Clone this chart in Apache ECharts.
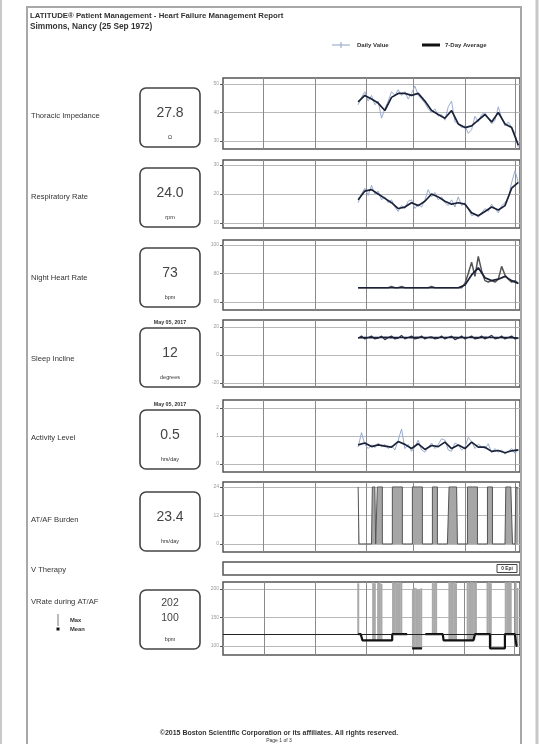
<!DOCTYPE html>
<html><head><meta charset="utf-8">
<script src="https://cdn.jsdelivr.net/npm/echarts@6/dist/echarts.min.js"></script>
<style>html,body{margin:0;padding:0;background:#fff}#c{width:540px;height:744px}</style>
</head><body><div id="c"></div>
<script>
// ---------- data ----------
const titleLines = ['LATITUDE\u00ae Patient Management - Heart Failure Management Report', 'Simmons, Nancy (25 Sep 1972)'];
const legendNames = ['Daily Value', '7-Day Average'];
const footerLines = ['\u00a92015 Boston Scientific Corporation or its affiliates. All rights reserved.', 'Page 1 of 3'];
const startDate = '2017-01-27';
const axisStart = '2016-11-07';
const axisEnd = '2017-05-04';
const monthLines = ['2016-12-01','2017-01-01','2017-02-01','2017-03-01','2017-04-01','2017-05-01'];

const panelLabels = ['Thoracic Impedance','Respiratory Rate','Night Heart Rate','Sleep Incline','Activity Level','AT/AF Burden','V Therapy','VRate during AT/AF'];
const boxValues = ['27.8','24.0','73','12','0.5','23.4'];
const boxUnits = ['\u03a9','rpm','bpm','degrees','hrs/day','hrs/day'];
const boxDates = ['','','','May 05, 2017','May 05, 2017',''];
const vrateBox = ['202','100','bpm'];
const vrateLegend = ['Max','Mean'];
const vTherapyLabel = '0 Epi';

const thorTicks = [30,40,50];
const respTicks = [10,20,30];
const nhrTicks = [60,80,100];
const sleepTicks = [-20,0,20];
const actTicks = [0,1,2];
const afTicks = [0,12,24];
const vrTicks = [100,150,200];

// daily values every 2 days, 7-day averages every 4 days, from startDate
const thorDaily = [42.7,45.3,47.3,44,46,42.7,44,38,41.3,44,47.3,46,48,46,47.3,44.7,46.7,49.3,46,44.7,43.3,41.3,40,41.3,38.7,39.3,37.3,42,44,36.7,36,34.7,35.3,32.7,34,38.7,36.7,39.3,40,38,36,37.3,42,38,35.3,36.7,34.7,32.7,27.8];
const thorAvg = [43.7,46,44.7,43.3,40.7,45.3,46.7,46.7,46,46.7,44,40.7,39.3,38,40.7,36,34.7,35.3,37.3,39.3,36.7,40,36,34.7,28.5];
const respDaily = [17,20,22,19.5,23,20,21,18,19,17,18,15.5,14,16,15,17.5,18,15,16.5,15.5,18,21.5,19,20.5,18,19,17,16,18,15.5,19,16,17,15,12.5,13,12,13.5,15,14,16.5,15,13.5,16,17,18.5,24,28,24];
const respAvg = [18,21,21.5,20,18.5,17,15,15.5,17,16,17.5,20,19,17.5,16.5,17,16.5,13.5,12.5,14,15.5,14.5,16,22,24];
const nhrDaily = [70,70,70,70,70,70,70,70,70,70,71,70,70,71,70,70,70,70,70,70,70,70,71,70,70,70,70,70,70,70,70,70,73,80,88,78,92,82,75,74,75,74,76,85,79,76,74,75,73];
const nhrAvg = [70,70,70,70,70,70,70,70,70,70,70,70,70,70,70,70,72,79,84,77,75,76,78,75,73];
const sleepDaily = [12,13.5,11.5,12.5,13.5,11.5,12,13.5,11,12.5,13.5,11.5,12,14,11.5,12.5,13.5,11.5,12,13.5,11.5,12.5,13,11.5,12,13.5,11.5,12.5,13.5,11,12,13.5,11.5,12.5,13.5,11.5,12,13.5,11.5,12.5,14,11.5,12,13.5,11.5,12.5,13.5,11.5,12];
const sleepAvg = [12.3,12.5,12.4,12.5,12.6,12.4,12.5,12.5,12.4,12.6,12.5,12.4,12.5,12.5,12.6,12.4,12.5,12.5,12.4,12.6,12.5,12.5,12.4,12.5,12];
const actDaily = [0.6,1.12,0.7,0.55,0.68,0.58,0.75,0.62,0.7,0.55,0.65,0.5,0.85,1.25,0.55,0.7,0.45,0.6,0.85,0.5,0.42,0.6,0.75,0.55,0.7,0.9,0.85,0.5,0.45,0.75,0.68,0.5,0.6,0.95,0.8,0.55,0.7,0.62,0.55,0.72,0.4,0.55,0.42,0.5,0.35,0.45,0.55,0.38,0.5];
const actAvg = [0.68,0.75,0.62,0.68,0.64,0.6,0.8,0.7,0.55,0.72,0.52,0.66,0.62,0.78,0.55,0.68,0.55,0.78,0.6,0.6,0.45,0.48,0.4,0.47,0.5];

// daily AT/AF burden (hrs/day)
const afBurden = [24,0,0,0,0,0,0,0,0,24,24,0,24,24,24,0,0,0,0,0,0,24,24,24,24,24,24,0,0,0,0,0,0,24,24,24,24,24,24,0,0,0,0,0,0,24,24,24,0,0,0,0,0,0,0,24,24,24,24,24,0,0,0,0,0,0,24,24,24,24,24,24,0,0,0,0,0,0,24,24,24,0,0,0,0,0,0,0,0,24,24,24,24,0,0,24,23.4];
// daily ventricular rate during AT/AF (bpm)
const vrMax = [210,null,null,null,null,null,null,null,null,212,210,null,211,212,209,null,null,null,null,null,null,212,211,212,210,212,211,null,null,null,null,null,null,200,202,201,199,200,201,null,null,null,null,null,null,212,210,211,null,null,null,null,null,null,null,212,212,211,212,210,null,null,null,null,null,null,212,211,212,212,211,212,null,null,null,null,null,null,211,212,210,null,null,null,null,null,null,null,null,212,211,212,212,null,null,212,202];
const vrMean = [121,121,121,110,110,110,110,110,110,110,110,110,110,110,110,110,110,110,110,110,110,121,121,121,121,121,121,121,121,121,null,null,null,96,96,96,96,96,96,null,null,121,121,121,121,121,121,121,121,121,121,121,110,110,110,110,110,110,110,110,110,110,110,110,110,110,110,110,110,110,110,121,121,121,121,121,121,121,121,121,96,96,96,96,96,96,96,96,96,121,121,121,121,121,121,121,100];
const vrRef = 120;
const vTherapyEpisodes = [];

// ---------- helpers ----------
const d0 = new Date(startDate + 'T00:00:00');
const dayTs = i => new Date(d0.getFullYear(), d0.getMonth(), d0.getDate() + i).getTime();
const ts = s => new Date(s + 'T00:00:00').getTime();
const pts = (arr, step) => arr.map((v, i) => [dayTs(i * step), v == null ? '-' : v]);
const monthTs = monthLines.map(ts);

const G = [[78,149],[160,228],[240,310],[320,387],[400,472],[482,552],[562,575],[582,655]];
const ranges = [[27.2,52.1],[8.3,31.7],[54.4,103.5],[-22.9,25],[-0.29,2.29],[-3.4,26.1],[0,1],[84.2,212.3]];
const ticks = [thorTicks,respTicks,nhrTicks,sleepTicks,actTicks,afTicks,null,vrTicks];

const grid = G.map(g => ({left:223, width:297, top:g[0], height:g[1]-g[0], show:true, borderColor:'#555', borderWidth:1.5, backgroundColor:'#fff'}));
const xAxis = G.map((g, i) => ({
  gridIndex:i, type:'time', min:ts(axisStart), max:ts(axisEnd),
  axisLabel:{show:false}, axisLine:{show:false},
  axisTick:{show:false, customValues:monthTs},
  splitLine:{show:i !== 6, lineStyle:{color:'#8a8a8a', width:1}}
}));
const yAxis = G.map((g, i) => ticks[i] ? ({
  gridIndex:i, type:'value', min:ranges[i][0], max:ranges[i][1],
  axisLine:{show:false},
  axisTick:{show:true, length:3, customValues:ticks[i], lineStyle:{color:'#555'}},
  axisLabel:{show:true, customValues:ticks[i], fontSize:5, color:'#999', margin:4},
  splitLine:{show:true, lineStyle:{color:'#b8b8b8', width:1}}
}) : ({gridIndex:i, type:'value', min:0, max:1, show:false}));

const dailyStyle = {color:'#98abd0', width:1};
const avgStyle = {color:'#1b2238', width:1.7};
function pair(i, daily, avg, dStyle) {
  return [
    {name:legendNames[0], type:'line', xAxisIndex:i, yAxisIndex:i, data:pts(daily,2), showSymbol:false, symbol:'none', lineStyle:dStyle || dailyStyle, z:2},
    {name:legendNames[1], type:'line', xAxisIndex:i, yAxisIndex:i, data:pts(avg,4), showSymbol:false, symbol:'none', lineStyle:avgStyle, z:3}
  ];
}
const afDays = vrMax.map((v, i) => v == null ? null : i).filter(v => v != null);
const series = [
  ...pair(0, thorDaily, thorAvg),
  ...pair(1, respDaily, respAvg),
  ...pair(2, nhrDaily, nhrAvg, {color:'#555', width:1.5}),
  ...pair(3, sleepDaily, sleepAvg, {color:'#2c3652', width:1.3}),
  ...pair(4, actDaily, actAvg),
  {name:'AT/AF Burden', type:'line', step:'middle', xAxisIndex:5, yAxisIndex:5, data:pts(afBurden,1), symbol:'none', lineStyle:{color:'#555', width:1}, areaStyle:{color:'#a6a6a6', opacity:1}},
  {name:'V Therapy', type:'scatter', xAxisIndex:6, yAxisIndex:6, data:vTherapyEpisodes},
  {name:'base', type:'bar', stack:'vr', xAxisIndex:7, yAxisIndex:7, barWidth:2, itemStyle:{color:'rgba(0,0,0,0)'}, data:afDays.map(d => [dayTs(d), vrMean[d]])},
  {name:vrateLegend[0], type:'bar', stack:'vr', xAxisIndex:7, yAxisIndex:7, barWidth:2.2, itemStyle:{color:'#a9a9a9'}, data:afDays.map(d => [dayTs(d), vrMax[d] - vrMean[d]]),
   markLine:{silent:true, symbol:'none', label:{show:false}, lineStyle:{color:'#222', width:1, type:'solid'}, data:[{yAxis:vrRef}]}},
  {name:vrateLegend[1], type:'line', step:'middle', xAxisIndex:7, yAxisIndex:7, data:pts(vrMean,1), symbol:'none', connectNulls:false, lineStyle:{color:'#111', width:2.2}, z:4}
];

// ---------- graphics (page, labels, boxes) ----------
const FF = 'Liberation Sans, Arial, sans-serif';
const gfx = [];
const txt = (text, x, y, size, opt) => gfx.push(Object.assign({type:'text', x, y, z:10, style:Object.assign({text, fontSize:size, fontFamily:FF, fill:'#333', align:'left', verticalAlign:'middle'}, opt || {})}));
gfx.push({type:'line', shape:{x1:1, y1:0, x2:1, y2:744}, style:{stroke:'#c8c8c8', lineWidth:2}});
gfx.push({type:'line', shape:{x1:537, y1:0, x2:537, y2:744}, style:{stroke:'#c8c8c8', lineWidth:3}});
gfx.push({type:'rect', shape:{x:27, y:7, width:494, height:760}, style:{fill:'none', stroke:'#a8a8a8', lineWidth:2}});
txt(titleLines[0], 30, 16, 7.8, {fontWeight:'bold'});
txt(titleLines[1], 30, 27, 8.3, {fontWeight:'bold'});
// top legend
gfx.push({type:'line', shape:{x1:332, y1:45, x2:350, y2:45}, style:{stroke:'#8fa2c8', lineWidth:1}});
gfx.push({type:'line', shape:{x1:341, y1:42, x2:341, y2:48}, style:{stroke:'#8fa2c8', lineWidth:1}});
txt(legendNames[0], 357, 45, 6, {fontWeight:'bold'});
gfx.push({type:'line', shape:{x1:422, y1:45, x2:440, y2:45}, style:{stroke:'#111', lineWidth:3}});
txt(legendNames[1], 445, 45, 6, {fontWeight:'bold'});
// left labels
const labelY = [116,197,278,359,438,520,570,602];
panelLabels.forEach((l, i) => txt(l, 31, labelY[i], 7.6));
// value boxes
const boxTop = [88,168,248,328,410,492];
boxValues.forEach((v, i) => {
  const t = boxTop[i];
  gfx.push({type:'rect', shape:{x:140, y:t, width:60, height:59, r:6}, style:{fill:'none', stroke:'#444', lineWidth:1.6}});
  txt(v, 170, t + 25, 14, {align:'center', fill:'#444'});
  txt(boxUnits[i], 170, t + 49, 5.5, {align:'center', fill:'#333'});
  if (boxDates[i]) txt(boxDates[i], 170, t - 5, 5.3, {align:'center', fontWeight:'bold'});
});
gfx.push({type:'rect', shape:{x:140, y:590, width:60, height:59, r:6}, style:{fill:'none', stroke:'#444', lineWidth:1.6}});
txt(vrateBox[0], 170, 603, 10.5, {align:'center', fill:'#444'});
txt(vrateBox[1], 170, 618, 10.5, {align:'center', fill:'#444'});
txt(vrateBox[2], 170, 639, 5.5, {align:'center'});
// Max / Mean legend
gfx.push({type:'line', shape:{x1:58, y1:614, x2:58, y2:626}, style:{stroke:'#777', lineWidth:1}});
gfx.push({type:'rect', shape:{x:56.5, y:627.5, width:3, height:3}, style:{fill:'#111'}});
txt(vrateLegend[0], 70, 620, 5.8, {fontWeight:'bold'});
txt(vrateLegend[1], 70, 629, 5.8, {fontWeight:'bold'});
// V therapy episode tag
gfx.push({type:'rect', shape:{x:497, y:564.5, width:20, height:8}, style:{fill:'#fff', stroke:'#444', lineWidth:1}});
txt(vTherapyLabel, 507, 568.5, 4.8, {align:'center', fontWeight:'bold'});
// footer
txt(footerLines[0], 279, 733, 7, {align:'center', fontWeight:'bold'});
txt(footerLines[1], 279, 741, 5, {align:'center'});

const chart = echarts.init(document.getElementById('c'), null, {renderer:'canvas'});
chart.setOption({animation:false, backgroundColor:'#fff', grid, xAxis, yAxis, series, graphic:gfx});
</script></body></html>
